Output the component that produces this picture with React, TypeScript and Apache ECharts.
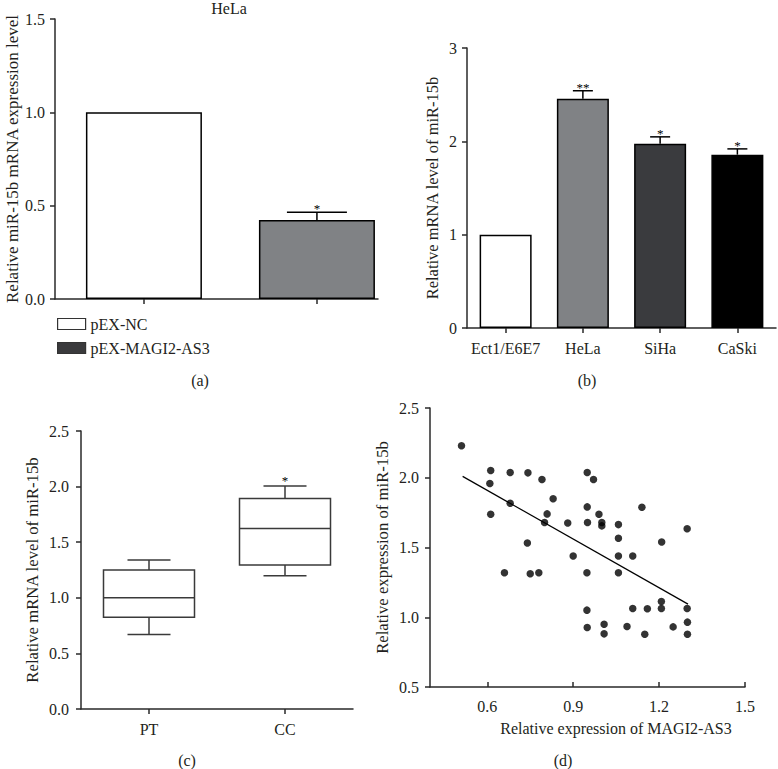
import React, { useEffect, useRef } from 'react';
import * as echarts from 'echarts';

// ---------- Panel (a) ----------
const aGroups = ['pEX-NC', 'pEX-MAGI2-AS3'];
const aValues = [1.0, 0.423];
const aErrors = [0, 0.042];
const aStars = ['', '*'];

// ---------- Panel (b) ----------
const bCategories = ['Ect1/E6E7', 'HeLa', 'SiHa', 'CaSki'];
const bValues = [1.0, 2.457, 1.975, 1.857];
const bErrors = [0, 0.085, 0.073, 0.062];
const bStars = ['', '**', '*', '*'];

// ---------- Panel (c) ----------
const cCategories = ['PT', 'CC'];
const cMin = [0.671, 1.198];
const cQ1 = [0.824, 1.294];
const cMedian = [1.0, 1.623];
const cQ3 = [1.25, 1.893];
const cMax = [1.34, 2.006];
const cStars = ['', '*'];

// ---------- Panel (d) ----------
const dX = [0.510, 0.612, 0.609, 0.612, 0.680, 0.680, 0.660, 0.742, 0.740, 0.750, 0.780, 0.791, 0.830, 0.809, 0.800, 0.881, 0.900, 0.949, 0.971, 0.949, 0.950, 0.948, 0.948, 0.949, 0.990, 1.000, 1.000, 1.008, 1.008, 1.058, 1.058, 1.058, 1.058, 1.108, 1.108, 1.088, 1.140, 1.159, 1.150, 1.209, 1.208, 1.208, 1.249, 1.298, 1.298, 1.299, 1.299];
const dY = [2.229, 2.052, 1.959, 1.738, 2.038, 1.817, 1.319, 2.035, 1.532, 1.312, 1.319, 1.987, 1.849, 1.741, 1.679, 1.676, 1.439, 2.038, 1.987, 1.791, 1.679, 1.319, 1.051, 0.927, 1.738, 1.679, 1.655, 0.950, 0.881, 1.664, 1.566, 1.439, 1.319, 1.439, 1.063, 0.934, 1.789, 1.061, 0.878, 1.540, 1.113, 1.063, 0.931, 1.635, 1.063, 0.965, 0.878];
const dFitX = [0.514, 1.301];
const dFitY = [2.010, 1.094];
const dXTicks = [0.6, 0.9, 1.2, 1.5];

const FONT = 'Liberation Serif';
const INK = '#231f20';
const AX = '#2a2a2a';
const FS = 16;

const axisCommon = {
  axisLine: { show: true, onZero: false, lineStyle: { color: AX, width: 1.5 } },
  axisTick: { show: true, length: 5, lineStyle: { color: AX, width: 1.5 } },
  splitLine: { show: false },
  axisLabel: { color: INK, fontFamily: FONT, fontSize: FS },
  nameTextStyle: { color: INK, fontFamily: FONT, fontSize: FS },
};

const fmt1 = (v: number) => v.toFixed(1);

function starText(s: string, x: number, y: number) {
  return {
    type: 'text',
    x,
    y,
    silent: true,
    style: { text: s, textAlign: 'center', textVerticalAlign: 'bottom', fontFamily: FONT, fontSize: 13, fill: '#000' },
  };
}

function errorRender(stars: string[], capHalf: number) {
  return (params: any, api: any) => {
    const x = api.value(0);
    const y = api.value(1);
    const e = api.value(2);
    const p0 = api.coord([x, y]);
    const p1 = api.coord([x, y + e]);
    const children: any[] = [];
    if (e > 0) {
      children.push({
        type: 'line',
        shape: { x1: p0[0], y1: p0[1], x2: p1[0], y2: p1[1] },
        style: { stroke: '#000', lineWidth: 1.5 },
      });
      children.push({
        type: 'line',
        shape: { x1: p1[0] - capHalf, y1: p1[1], x2: p1[0] + capHalf, y2: p1[1] },
        style: { stroke: '#000', lineWidth: 1.5 },
      });
    }
    const s = stars[params.dataIndex];
    if (s) children.push(starText(s, p1[0], p1[1] + 3));
    return { type: 'group', children };
  };
}

function boxRender(stars: string[], boxHalf: number, capHalf: number) {
  return (params: any, api: any) => {
    const x = api.value(0);
    const pMin = api.coord([x, api.value(1)]);
    const pQ1 = api.coord([x, api.value(2)]);
    const pMed = api.coord([x, api.value(3)]);
    const pQ3 = api.coord([x, api.value(4)]);
    const pMax = api.coord([x, api.value(5)]);
    const cx = pMed[0];
    const st = { stroke: '#3a3a3a', lineWidth: 1.5, fill: 'none' };
    const children: any[] = [
      { type: 'rect', shape: { x: cx - boxHalf, y: pQ3[1], width: boxHalf * 2, height: pQ1[1] - pQ3[1] }, style: { ...st, fill: '#fff' } },
      { type: 'line', shape: { x1: cx - boxHalf, y1: pMed[1], x2: cx + boxHalf, y2: pMed[1] }, style: st },
      { type: 'line', shape: { x1: cx, y1: pQ3[1], x2: cx, y2: pMax[1] }, style: st },
      { type: 'line', shape: { x1: cx, y1: pQ1[1], x2: cx, y2: pMin[1] }, style: st },
      { type: 'line', shape: { x1: cx - capHalf, y1: pMax[1], x2: cx + capHalf, y2: pMax[1] }, style: st },
      { type: 'line', shape: { x1: cx - capHalf, y1: pMin[1], x2: cx + capHalf, y2: pMin[1] }, style: st },
    ];
    const s = stars[params.dataIndex];
    if (s) children.push(starText(s, cx, pMax[1] + 1));
    return { type: 'group', children };
  };
}

export default function App() {
  const ref = useRef<HTMLDivElement>(null);

  useEffect(() => {
    if (!ref.current) return;
    const chart = echarts.init(ref.current, null, { renderer: 'svg' });

    const aFill = ['#ffffff', '#808285'];
    const aLegendFill = ['#ffffff', '#3a3a3c'];
    const bFill = ['#ffffff', '#808285', '#3a3b3e', '#000000'];

    const labelText = (text: string, x: number, y: number) => ({
      type: 'text',
      x,
      y,
      style: { text, textAlign: 'center', textVerticalAlign: 'middle', fontFamily: FONT, fontSize: FS, fill: INK },
    });

    const yName = (size: number) => ({ color: INK, fontFamily: FONT, fontSize: size });

    const option: any = {
      animation: false,
      backgroundColor: '#ffffff',
      textStyle: { fontFamily: FONT },
      grid: [
        { left: 55, top: 19, width: 323, height: 280 },
        { left: 467, top: 48, width: 309, height: 280 },
        { left: 81, top: 431, width: 272, height: 278 },
        { left: 430, top: 408, width: 315, height: 279 },
      ],
      legend: {
        orient: 'vertical',
        left: 57,
        top: 316,
        padding: 0,
        itemWidth: 28,
        itemHeight: 11,
        itemGap: 8,
        icon: 'rect',
        selectedMode: false,
        textStyle: { color: INK, fontFamily: FONT, fontSize: 16, lineHeight: 16 },
        itemStyle: { borderColor: '#333', borderWidth: 1.2 },
        data: aGroups.map((g, i) => ({ name: g, itemStyle: { color: aLegendFill[i], borderColor: '#333', borderWidth: 1.2 } })),
      },
      xAxis: [
        {
          ...axisCommon,
          gridIndex: 0,
          type: 'value',
          min: -0.514,
          max: 1.353,
          axisTick: { ...axisCommon.axisTick, customValues: [0, 1] },
          axisLabel: { show: false },
        },
        {
          ...axisCommon,
          gridIndex: 1,
          type: 'category',
          data: bCategories,
          axisTick: { ...axisCommon.axisTick, alignWithLabel: true },
          axisLabel: { ...axisCommon.axisLabel, margin: 12, interval: 0 },
        },
        {
          ...axisCommon,
          gridIndex: 2,
          type: 'category',
          data: cCategories,
          axisTick: { ...axisCommon.axisTick, alignWithLabel: true },
          axisLabel: { ...axisCommon.axisLabel, margin: 12, interval: 0 },
        },
        {
          ...axisCommon,
          gridIndex: 3,
          type: 'value',
          min: 0.4,
          max: 1.5,
          axisTick: { ...axisCommon.axisTick, inside: true, customValues: dXTicks },
          axisLabel: { ...axisCommon.axisLabel, margin: 11, customValues: dXTicks, formatter: fmt1 },
          name: 'Relative expression of MAGI2-AS3',
          nameLocation: 'middle',
          nameGap: 33,
          nameTextStyle: { ...axisCommon.nameTextStyle, padding: [0, 0, 0, 57] },
        },
      ],
      yAxis: [
        {
          ...axisCommon,
          gridIndex: 0,
          type: 'value',
          min: 0,
          max: 1.5,
          interval: 0.5,
          axisLabel: { ...axisCommon.axisLabel, margin: 10, formatter: fmt1 },
          name: 'Relative miR-15b mRNA expression level',
          nameLocation: 'middle',
          nameRotate: 90,
          nameGap: 34,
          nameTextStyle: yName(17),
        },
        {
          ...axisCommon,
          gridIndex: 1,
          type: 'value',
          min: 0,
          max: 3,
          interval: 1,
          axisLabel: { ...axisCommon.axisLabel, margin: 10 },
          name: 'Relative mRNA level of miR-15b',
          nameLocation: 'middle',
          nameRotate: 90,
          nameGap: 26,
          nameTextStyle: yName(16.5),
        },
        {
          ...axisCommon,
          gridIndex: 2,
          type: 'value',
          min: 0,
          max: 2.5,
          interval: 0.5,
          axisLabel: { ...axisCommon.axisLabel, margin: 12, formatter: fmt1 },
          name: 'Relative mRNA level of miR-15b',
          nameLocation: 'middle',
          nameRotate: 90,
          nameGap: 40,
          nameTextStyle: yName(16.7),
        },
        {
          ...axisCommon,
          gridIndex: 3,
          type: 'value',
          min: 0.5,
          max: 2.5,
          interval: 0.5,
          axisLabel: { ...axisCommon.axisLabel, margin: 11, formatter: fmt1 },
          name: 'Relative expression of miR-15b',
          nameLocation: 'middle',
          nameRotate: 90,
          nameGap: 39,
          nameTextStyle: yName(16.7),
        },
      ],
      series: [
        // (a) bars
        ...aGroups.map((g, i) => ({
          name: g,
          type: 'bar',
          xAxisIndex: 0,
          yAxisIndex: 0,
          barWidth: 116,
          barGap: '-100%',
          data: [[i, aValues[i]]],
          itemStyle: { color: aFill[i], borderColor: '#000', borderWidth: 1.5 },
        })),
        {
          name: 'a-err',
          type: 'custom',
          xAxisIndex: 0,
          yAxisIndex: 0,
          z: 5,
          itemStyle: { color: '#000' },
          renderItem: errorRender(aStars, 30),
          data: aValues.map((v, i) => [i, v, aErrors[i]]),
        },
        // (b) bars
        {
          name: 'b-bars',
          type: 'bar',
          xAxisIndex: 1,
          yAxisIndex: 1,
          barWidth: 52,
          data: bValues.map((v, i) => ({ value: v, itemStyle: { color: bFill[i], borderColor: '#000', borderWidth: 1.5 } })),
        },
        {
          name: 'b-err',
          type: 'custom',
          xAxisIndex: 1,
          yAxisIndex: 1,
          z: 5,
          itemStyle: { color: '#000' },
          renderItem: errorRender(bStars, 10),
          data: bValues.map((v, i) => [i, v, bErrors[i]]),
        },
        // (c) box plots
        {
          name: 'c-box',
          type: 'custom',
          xAxisIndex: 2,
          yAxisIndex: 2,
          itemStyle: { color: '#000' },
          renderItem: boxRender(cStars, 45.5, 21.5),
          data: cCategories.map((_, i) => [i, cMin[i], cQ1[i], cMedian[i], cQ3[i], cMax[i]]),
        },
        // (d) scatter + fit
        {
          name: 'd-points',
          type: 'scatter',
          xAxisIndex: 3,
          yAxisIndex: 3,
          symbolSize: 7.5,
          itemStyle: { color: '#000' },
          data: dX.map((x, i) => [x, dY[i]]),
        },
        {
          name: 'd-fit',
          type: 'line',
          xAxisIndex: 3,
          yAxisIndex: 3,
          showSymbol: false,
          symbol: 'none',
          lineStyle: { color: '#000', width: 1.2 },
          data: dFitX.map((x, i) => [x, dFitY[i]]),
        },
      ],
      graphic: [
        labelText('HeLa', 229, 8),
        labelText('(a)', 200, 380),
        labelText('(b)', 587, 380),
        labelText('(c)', 187, 760),
        labelText('(d)', 563, 760),
      ],
    };

    chart.setOption(option);
    return () => chart.dispose();
  }, []);

  return (
    <div
      ref={ref}
      style={{ position: 'fixed', left: 0, top: 0, width: 778, height: 769, background: '#fff' }}
    />
  );
}
